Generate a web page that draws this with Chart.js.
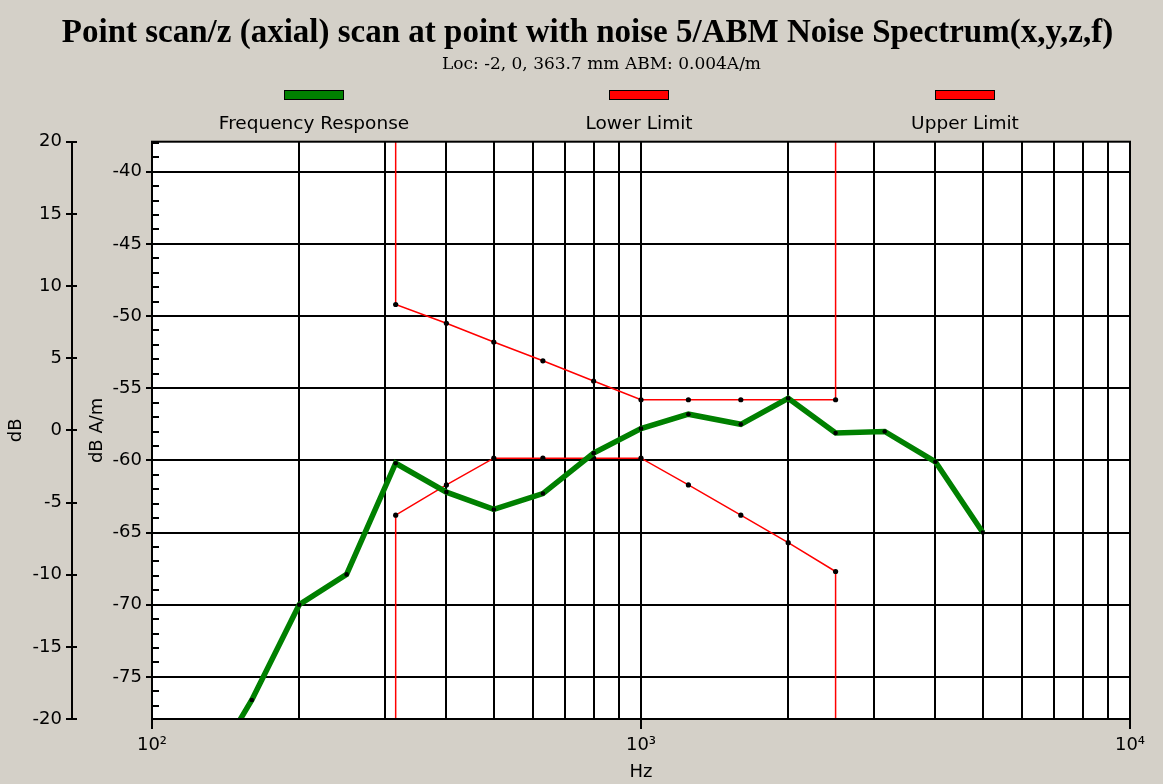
<!DOCTYPE html>
<html>
<head>
<meta charset="utf-8">
<script src="https://cdn.jsdelivr.net/npm/chart.js@4.4.1/dist/chart.umd.min.js"></script>
<style>
html,body{margin:0;padding:0;background:#d4d0c8;overflow:hidden;}
canvas{display:block;}
</style>
</head>
<body>
<canvas id="c" width="1163" height="784"></canvas>
<script>
// ---- data ----
const titleText = 'Point scan/z (axial) scan at point with noise 5/ABM Noise Spectrum(x,y,z,f)';
const subtitleText = 'Loc: -2, 0, 363.7 mm ABM: 0.004A/m';
const seriesNames = ['Frequency Response', 'Lower Limit', 'Upper Limit'];
const xAxisTitle = 'Hz';
const yInnerTitle = 'dB A/m';
const yOuterTitle = 'dB';

const responseFreqs  = [125, 160, 200, 250, 315, 400, 500, 630, 800, 1000, 1250, 1600, 2000, 2500, 3150, 4000, 5000];
const responseValues = [-82.7, -76.6, -70.0, -67.9, -60.2, -62.2, -63.4, -62.3, -59.5, -57.8, -56.8, -57.5, -55.7, -58.1, -58.0, -60.1, -65.0];

const lowerFreqs  = [315, 315, 400, 500, 630, 800, 1000, 1250, 1600, 2000, 2500, 2500];
const lowerValues = [-100, -63.8, -61.7, -59.85, -59.85, -59.85, -59.85, -61.7, -63.8, -65.7, -67.7, -100];

const upperFreqs  = [315, 315, 400, 500, 630, 800, 1000, 1250, 1600, 2000, 2500, 2500];
const upperValues = [-20, -49.2, -50.5, -51.8, -53.1, -54.5, -55.8, -55.8, -55.8, -55.8, -55.8, -20];

const xTickValues = [100,200,300,400,500,600,700,800,900,1000,2000,3000,4000,5000,6000,7000,8000,9000,10000];
const xTickLabels = {100: '10\u00B2', 1000: '10\u00B3', 10000: '10\u2074'};
const xRange = [100, 10000];

const dbAmTicks = [-75, -70, -65, -60, -55, -50, -45, -40];
const dbAmRange = [-77.92, -37.92];
const dbTicks = [-20, -15, -10, -5, 0, 5, 10, 15, 20];
const dbRange = [-20, 20];

// ---- styles ----
const BG = '#d4d0c8';
const GREEN = '#008000';
const RED = '#ff0000';
const SANS = 'DejaVu Sans';
const legendCenters = [314, 639, 965];
const titleBoxLeft = 45, subtitleBoxLeft = 73;

function pts(xs, ys){ return xs.map((x,i)=>({x:x, y:ys[i]})); }

const decor = {
  id: 'decor',
  afterLayout(c){
    c.boxes.forEach(b => {
      if (b === c.titleBlock) { b.left = titleBoxLeft; }
      else if (b.options && b.options.text === subtitleText) { b.left = subtitleBoxLeft; }
    });
  },
  beforeDraw(c){
    const {ctx, chartArea:a} = c;
    ctx.save();
    ctx.fillStyle = BG; ctx.fillRect(0,0,c.width,c.height);
    ctx.fillStyle = '#fff'; ctx.fillRect(a.left,a.top,a.right-a.left,a.bottom-a.top);
    ctx.restore();
  },
  afterDatasetsDraw(c){
    const {ctx, chartArea:a} = c;
    const yi = c.scales.y, yo = c.scales.y2;
    ctx.save();
    ctx.strokeStyle = '#000';
    ctx.lineWidth = 2;
    ctx.strokeRect(a.left, a.top, a.right-a.left, a.bottom-a.top);
    ctx.lineWidth = 2;
    ctx.beginPath();
    for (let v = Math.ceil(dbAmRange[0]); v <= Math.floor(dbAmRange[1]); v++) {
      if (v % 5 === 0) continue;
      const py = Math.round(yi.getPixelForValue(v));
      ctx.moveTo(a.left, py); ctx.lineTo(a.left + 7, py);
    }
    for (const v of dbTicks) {
      const py = Math.round(yo.getPixelForValue(v));
      ctx.moveTo(yo.right, py); ctx.lineTo(yo.right + 5, py);
    }
    ctx.stroke();
    ctx.restore();
  },
  afterDraw(c){
    const {ctx} = c;
    ctx.save();
    c.data.datasets.forEach((ds, i) => {
      const cx = legendCenters[i];
      ctx.fillStyle = ds.borderColor;
      ctx.fillRect(cx - 30, 90, 60, 10);
      ctx.strokeStyle = '#000'; ctx.lineWidth = 1;
      ctx.strokeRect(cx - 30 + 0.5, 90.5, 59, 9);
      ctx.fillStyle = '#000';
      ctx.font = '18.5px "' + SANS + '"';
      ctx.textAlign = 'center'; ctx.textBaseline = 'middle';
      ctx.fillText(ds.label, cx, 124);
    });
    ctx.restore();
  }
};

const tickFont = {family: SANS, size: 18};

new Chart(document.getElementById('c'), {
  type: 'line',
  data: {
    datasets: [
      {label: seriesNames[0], data: pts(responseFreqs, responseValues), borderColor: GREEN, backgroundColor: GREEN,
       borderWidth: 5.5, pointRadius: 2.3, pointBackgroundColor: '#000', pointBorderWidth: 0, tension: 0, clip: 0,
       xAxisID: 'x', yAxisID: 'y'},
      {label: seriesNames[1], data: pts(lowerFreqs, lowerValues), borderColor: RED, backgroundColor: RED,
       borderWidth: 1.5, pointRadius: 2.6, pointBackgroundColor: '#000', pointBorderWidth: 0, tension: 0, clip: 0,
       xAxisID: 'x', yAxisID: 'y'},
      {label: seriesNames[2], data: pts(upperFreqs, upperValues), borderColor: RED, backgroundColor: RED,
       borderWidth: 1.5, pointRadius: 2.6, pointBackgroundColor: '#000', pointBorderWidth: 0, tension: 0, clip: 0,
       xAxisID: 'x', yAxisID: 'y'}
    ]
  },
  options: {
    responsive: false, animation: false, devicePixelRatio: 1,
    layout: {padding: {top: 0, right: 33, bottom: 0, left: 0}},
    plugins: {
      legend: {display: false},
      tooltip: {enabled: false},
      title: {display: true, text: titleText, color: '#000',
              font: {family: 'Liberation Serif', size: 33, weight: 'bold'}, padding: {top: 14, bottom: 0}},
      subtitle: {display: true, text: subtitleText, color: '#000',
              font: {family: 'DejaVu Serif', size: 17}, padding: {top: 1, bottom: 66.7}}
    },
    scales: {
      x: {
        type: 'logarithmic', position: 'bottom', min: xRange[0], max: xRange[1],
        afterBuildTicks: s => { s.ticks = xTickValues.map(v => ({value: v})); },
        ticks: {autoSkip: false, maxRotation: 0, minRotation: 0, padding: 6, color: '#000', font: tickFont,
                callback: v => xTickLabels[v] || ''},
        grid: {color: '#000', lineWidth: 2, tickLength: 10,
               tickColor: ctx => (ctx.tick && xTickLabels[ctx.tick.value]) ? '#000' : 'rgba(0,0,0,0)'},
        border: {display: true, color: '#000', width: 2},
        title: {display: true, text: xAxisTitle, color: '#000', font: tickFont, padding: {top: 0, bottom: 1}},
        afterFit: s => { s.height = 65; }
      },
      y: {
        type: 'linear', position: 'left', weight: 0, min: dbAmRange[0], max: dbAmRange[1],
        afterBuildTicks: s => { s.ticks = dbAmTicks.map(v => ({value: v})); },
        ticks: {padding: 4, color: '#000', font: tickFont, callback: v => String(v)},
        grid: {color: '#000', lineWidth: 2, tickLength: 6},
        border: {display: true, color: '#000', width: 2},
        title: {display: true, text: yInnerTitle, color: '#000', font: tickFont, padding: {top: 15, bottom: 0}},
        afterFit: s => { s.width = 80; }
      },
      y2: {
        type: 'linear', position: 'left', weight: 10, min: dbRange[0], max: dbRange[1],
        afterBuildTicks: s => { s.ticks = dbTicks.map(v => ({value: v})); },
        ticks: {padding: 4, color: '#000', font: tickFont, callback: v => String(v)},
        grid: {drawOnChartArea: false, color: '#000', lineWidth: 2, tickLength: 6},
        border: {display: true, color: '#000', width: 2},
        title: {display: true, text: yOuterTitle, color: '#000', font: tickFont, padding: {top: 6, bottom: 0}},
        afterFit: s => { s.width = 72; }
      }
    }
  },
  plugins: [decor]
});
</script>
</body>
</html>
